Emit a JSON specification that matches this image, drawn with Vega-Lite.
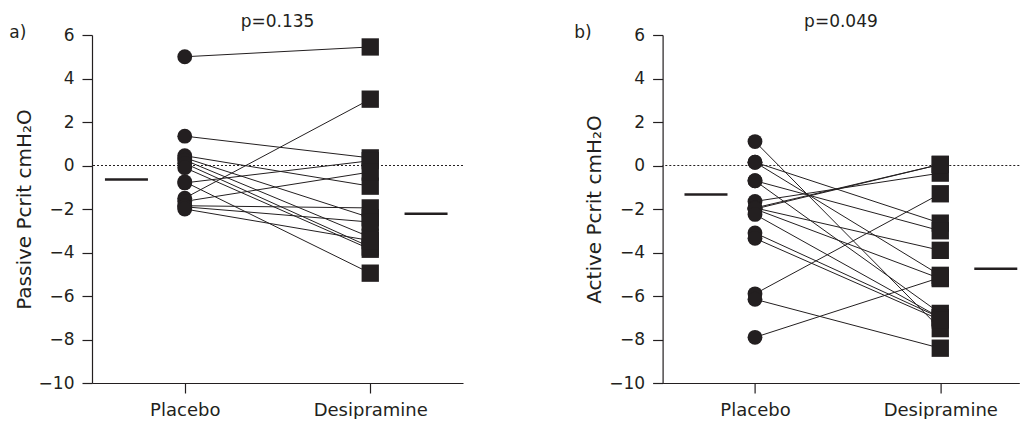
{
  "$schema": "https://vega.github.io/schema/vega-lite/v6.json",
  "padding": {"left": 9, "top": 13, "right": 0, "bottom": 0},
  "background": "white",
  "bounds": "flush",
  "spacing": 199.6,
  "config": {
    "view": {"stroke": null},
    "font": "DejaVu Sans",
    "axis": {"domainColor": "#231f20", "tickColor": "#231f20", "labelColor": "#231f20", "titleColor": "#231f20", "domainWidth": 1.2, "tickWidth": 1.2, "tickSize": 10, "grid": false, "labelFont": "DejaVu Sans", "titleFont": "DejaVu Sans", "titleFontWeight": "normal"},
    "title": {"font": "DejaVu Sans", "fontSize": 17, "fontWeight": "normal", "color": "#231f20", "offset": -7}
  },
  "datasets": {
    "a": [
      {"id": 1, "cond": "Placebo", "value": 5.0}, {"id": 1, "cond": "Desipramine", "value": 5.45},
      {"id": 2, "cond": "Placebo", "value": 1.35}, {"id": 2, "cond": "Desipramine", "value": 0.35},
      {"id": 3, "cond": "Placebo", "value": 0.45}, {"id": 3, "cond": "Desipramine", "value": -0.95},
      {"id": 4, "cond": "Placebo", "value": 0.35}, {"id": 4, "cond": "Desipramine", "value": -2.4},
      {"id": 5, "cond": "Placebo", "value": 0.25}, {"id": 5, "cond": "Desipramine", "value": -3.3},
      {"id": 6, "cond": "Placebo", "value": 0.1}, {"id": 6, "cond": "Desipramine", "value": -3.75},
      {"id": 7, "cond": "Placebo", "value": -0.1}, {"id": 7, "cond": "Desipramine", "value": -3.85},
      {"id": 8, "cond": "Placebo", "value": -0.8}, {"id": 8, "cond": "Desipramine", "value": 0.22},
      {"id": 9, "cond": "Placebo", "value": -0.75}, {"id": 9, "cond": "Desipramine", "value": -4.95},
      {"id": 10, "cond": "Placebo", "value": -1.5}, {"id": 10, "cond": "Desipramine", "value": 3.05},
      {"id": 11, "cond": "Placebo", "value": -1.65}, {"id": 11, "cond": "Desipramine", "value": -0.3},
      {"id": 12, "cond": "Placebo", "value": -1.85}, {"id": 12, "cond": "Desipramine", "value": -1.95},
      {"id": 13, "cond": "Placebo", "value": -1.9}, {"id": 13, "cond": "Desipramine", "value": -2.6},
      {"id": 14, "cond": "Placebo", "value": -2.0}, {"id": 14, "cond": "Desipramine", "value": -3.45}
    ],
    "b": [
      {"id": 1, "cond": "Placebo", "value": 1.1}, {"id": 1, "cond": "Desipramine", "value": -7.5},
      {"id": 2, "cond": "Placebo", "value": 0.15}, {"id": 2, "cond": "Desipramine", "value": -2.65},
      {"id": 3, "cond": "Placebo", "value": 0.15}, {"id": 3, "cond": "Desipramine", "value": -5.05},
      {"id": 4, "cond": "Placebo", "value": -0.7}, {"id": 4, "cond": "Desipramine", "value": -3.0},
      {"id": 5, "cond": "Placebo", "value": -0.7}, {"id": 5, "cond": "Desipramine", "value": -6.8},
      {"id": 6, "cond": "Placebo", "value": -1.65}, {"id": 6, "cond": "Desipramine", "value": -0.35},
      {"id": 7, "cond": "Placebo", "value": -1.95}, {"id": 7, "cond": "Desipramine", "value": 0.05},
      {"id": 8, "cond": "Placebo", "value": -2.0}, {"id": 8, "cond": "Desipramine", "value": 0.05},
      {"id": 9, "cond": "Placebo", "value": -1.95}, {"id": 9, "cond": "Desipramine", "value": -3.9},
      {"id": 10, "cond": "Placebo", "value": -2.0}, {"id": 10, "cond": "Desipramine", "value": -5.2},
      {"id": 11, "cond": "Placebo", "value": -2.25}, {"id": 11, "cond": "Desipramine", "value": -7.0},
      {"id": 12, "cond": "Placebo", "value": -3.1}, {"id": 12, "cond": "Desipramine", "value": -7.0},
      {"id": 13, "cond": "Placebo", "value": -3.35}, {"id": 13, "cond": "Desipramine", "value": -7.1},
      {"id": 14, "cond": "Placebo", "value": -5.9}, {"id": 14, "cond": "Desipramine", "value": -1.3},
      {"id": 15, "cond": "Placebo", "value": -6.15}, {"id": 15, "cond": "Desipramine", "value": -8.4},
      {"id": 16, "cond": "Placebo", "value": -7.9}, {"id": 16, "cond": "Desipramine", "value": -5.15}
    ],
    "meanA": [{"cond": "Placebo", "value": -0.64}, {"cond": "Desipramine", "value": -2.22}],
    "meanB": [{"cond": "Placebo", "value": -1.33}, {"cond": "Desipramine", "value": -4.75}],
    "zero": [{"value": 0}],
    "labA": [{"cond": "Placebo", "value": 6, "label": "a)"}],
    "labB": [{"cond": "Placebo", "value": 6, "label": "b)"}]
  },
  "hconcat": [
    {
      "width": 371,
      "height": 348,
      "title": {"text": "p=0.135"},
      "layer": [
        {
          "data": {"name": "zero"},
          "mark": {"type": "rule", "strokeDash": [2, 2], "color": "#231f20", "strokeWidth": 1},
          "encoding": {
            "y": {"field": "value", "type": "quantitative", "scale": {"domain": [-10, 6], "nice": false, "zero": false},
              "axis": {"values": [-10, -8, -6, -4, -2, 0, 2, 4, 6], "title": "Passive Pcrit cmH₂O", "titleFontSize": 20, "labelFontSize": 17, "labelPadding": 8, "titlePadding": 4}}
          }
        },
        {
          "data": {"name": "a"},
          "mark": {"type": "line", "color": "#231f20", "strokeWidth": 1},
          "encoding": {
            "x": {"field": "cond", "type": "nominal", "sort": ["Placebo", "Desipramine"], "scale": {"type": "point", "domain": ["Placebo", "Desipramine"], "padding": 0.5}, "axis": {"title": null, "labelAngle": 0, "labelFontSize": 18, "labelPadding": 8}},
            "y": {"field": "value", "type": "quantitative"},
            "detail": {"field": "id", "type": "nominal"}
          }
        },
        {
          "data": {"name": "a"},
          "transform": [{"filter": "datum.cond === 'Placebo'"}],
          "mark": {"type": "point", "shape": "circle", "filled": true, "size": 220, "color": "#231f20", "opacity": 1},
          "encoding": {"x": {"field": "cond", "type": "nominal"}, "y": {"field": "value", "type": "quantitative"}}
        },
        {
          "data": {"name": "a"},
          "transform": [{"filter": "datum.cond === 'Desipramine'"}],
          "mark": {"type": "point", "shape": "square", "filled": true, "size": 300, "color": "#231f20", "opacity": 1},
          "encoding": {"x": {"field": "cond", "type": "nominal"}, "y": {"field": "value", "type": "quantitative"}}
        },
        {
          "data": {"name": "meanA"},
          "transform": [{"filter": "datum.cond === 'Placebo'"}],
          "mark": {"type": "tick", "orient": "horizontal", "size": 43, "thickness": 2.5, "color": "#231f20", "opacity": 1, "xOffset": -58.3},
          "encoding": {"x": {"field": "cond", "type": "nominal"}, "y": {"field": "value", "type": "quantitative"}}
        },
        {
          "data": {"name": "meanA"},
          "transform": [{"filter": "datum.cond === 'Desipramine'"}],
          "mark": {"type": "tick", "orient": "horizontal", "size": 43, "thickness": 2.5, "color": "#231f20", "opacity": 1, "xOffset": 55.8},
          "encoding": {"x": {"field": "cond", "type": "nominal"}, "y": {"field": "value", "type": "quantitative"}}
        },
        {
          "data": {"name": "labA"},
          "mark": {"type": "text", "align": "left", "baseline": "middle", "xOffset": -175.5, "yOffset": -2, "fontSize": 17, "color": "#231f20"},
          "encoding": {"x": {"field": "cond", "type": "nominal"}, "y": {"field": "value", "type": "quantitative"}, "text": {"field": "label"}}
        }
      ]
    },
    {
      "width": 356.7,
      "height": 348,
      "title": {"text": "p=0.049"},
      "layer": [
        {
          "data": {"name": "zero"},
          "mark": {"type": "rule", "strokeDash": [2, 2], "color": "#231f20", "strokeWidth": 1},
          "encoding": {
            "y": {"field": "value", "type": "quantitative", "scale": {"domain": [-10, 6], "nice": false, "zero": false},
              "axis": {"values": [-10, -8, -6, -4, -2, 0, 2, 4, 6], "title": "Active Pcrit cmH₂O", "titleFontSize": 20, "labelFontSize": 17, "labelPadding": 8, "titlePadding": 4}}
          }
        },
        {
          "data": {"name": "b"},
          "mark": {"type": "line", "color": "#231f20", "strokeWidth": 1},
          "encoding": {
            "x": {"field": "cond", "type": "nominal", "sort": ["Placebo", "Desipramine"], "scale": {"type": "point", "domain": ["Placebo", "Desipramine"], "padding": 0.4625, "align": 0.539}, "axis": {"title": null, "labelAngle": 0, "labelFontSize": 18, "labelPadding": 8}},
            "y": {"field": "value", "type": "quantitative"},
            "detail": {"field": "id", "type": "nominal"}
          }
        },
        {
          "data": {"name": "b"},
          "transform": [{"filter": "datum.cond === 'Placebo'"}],
          "mark": {"type": "point", "shape": "circle", "filled": true, "size": 220, "color": "#231f20", "opacity": 1},
          "encoding": {"x": {"field": "cond", "type": "nominal"}, "y": {"field": "value", "type": "quantitative"}}
        },
        {
          "data": {"name": "b"},
          "transform": [{"filter": "datum.cond === 'Desipramine'"}],
          "mark": {"type": "point", "shape": "square", "filled": true, "size": 300, "color": "#231f20", "opacity": 1},
          "encoding": {"x": {"field": "cond", "type": "nominal"}, "y": {"field": "value", "type": "quantitative"}}
        },
        {
          "data": {"name": "meanB"},
          "transform": [{"filter": "datum.cond === 'Placebo'"}],
          "mark": {"type": "tick", "orient": "horizontal", "size": 43, "thickness": 2.5, "color": "#231f20", "opacity": 1, "xOffset": -49},
          "encoding": {"x": {"field": "cond", "type": "nominal"}, "y": {"field": "value", "type": "quantitative"}}
        },
        {
          "data": {"name": "meanB"},
          "transform": [{"filter": "datum.cond === 'Desipramine'"}],
          "mark": {"type": "tick", "orient": "horizontal", "size": 43, "thickness": 2.5, "color": "#231f20", "opacity": 1, "xOffset": 55.5},
          "encoding": {"x": {"field": "cond", "type": "nominal"}, "y": {"field": "value", "type": "quantitative"}}
        },
        {
          "data": {"name": "labB"},
          "mark": {"type": "text", "align": "left", "baseline": "middle", "xOffset": -180.7, "yOffset": -2, "fontSize": 17, "color": "#231f20"},
          "encoding": {"x": {"field": "cond", "type": "nominal"}, "y": {"field": "value", "type": "quantitative"}, "text": {"field": "label"}}
        }
      ]
    }
  ]
}
